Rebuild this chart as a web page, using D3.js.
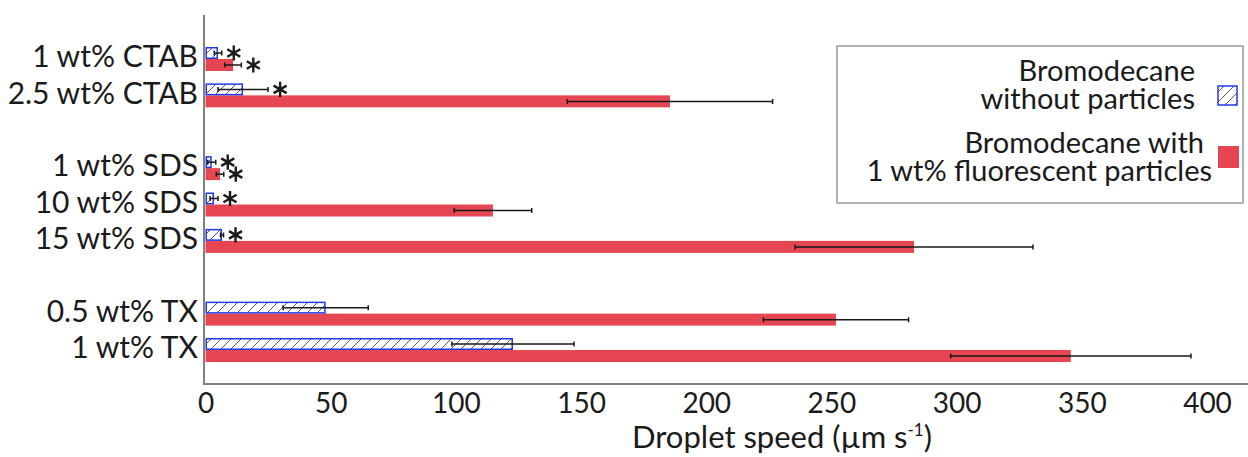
<!DOCTYPE html>
<html>
<head>
<meta charset="utf-8">
<script src="https://cdn.jsdelivr.net/npm/d3@7"></script>
<style>
body { margin: 0; background: #fff; }
text { font-family: Lato, sans-serif; fill: #1a1a1a; }
</style>
</head>
<body>
<svg></svg>
<script>
// conditions, top to bottom
var categories = ["1 wt% CTAB", "2.5 wt% CTAB", "1 wt% SDS", "10 wt% SDS", "15 wt% SDS", "0.5 wt% TX", "1 wt% TX"];
// rows incl. the two blank spacers between surfactant groups
var rowOrder = ["1 wt% CTAB", "2.5 wt% CTAB", "", "1 wt% SDS", "10 wt% SDS", "15 wt% SDS", " ", "0.5 wt% TX", "1 wt% TX"];

// droplet speed (um/s), mean and error
var withoutMean = [5, 15, 2.5, 3.4, 6.6, 48, 122.8];
var withoutErr = [1.5, 10, 1.6, 1.6, 0.6, 17, 24.4];
var withMean = [11, 185.5, 5.8, 114.8, 283, 251.8, 345.6];
var withErr = [3.3, 41, 1.5, 15.5, 47.5, 29, 48];

// significance stars
var starWithout = [true, true, true, true, true, false, false];
var starWith = [true, false, true, false, false, false, false];

var xTicks = [0, 50, 100, 150, 200, 250, 300, 350, 400];
var legendLabels = [["Bromodecane", "without particles"], ["Bromodecane with", "1 wt% fluorescent particles"]];

var width = 1248, height = 457;
var red = "#e64552", blue = "#2238e8";

var svg = d3.select("svg")
    .attr("width", width)
    .attr("height", height);

var defs = svg.append("defs");
var hatch = defs.append("pattern")
    .attr("id", "hatch")
    .attr("patternUnits", "userSpaceOnUse")
    .attr("width", 10)
    .attr("height", 10);
hatch.append("rect").attr("width", 10).attr("height", 10).attr("fill", "#fff");
hatch.append("path")
    .attr("d", "M-1,11 L11,-1 M-6,6 L6,-6 M4,16 L16,4")
    .attr("stroke", "#444")
    .attr("stroke-width", 0.9);

var x = d3.scaleLinear().domain([0, 400]).range([205.5, 1207]);
var y = d3.scalePoint().domain(rowOrder).range([59, 350]);
var barH = 12;

var rows = categories.map(function(c, i) {
    return {cat: c, wo: withoutMean[i], woE: withoutErr[i], w: withMean[i], wE: withErr[i],
            sWo: starWithout[i], sW: starWith[i]};
});

// red bars
svg.append("g").selectAll("rect")
    .data(rows)
    .enter().append("rect")
    .attr("x", x(0))
    .attr("y", function(d) { return y(d.cat); })
    .attr("width", function(d) { return x(d.w) - x(0); })
    .attr("height", barH)
    .attr("fill", red);

// hatched bars
svg.append("g").selectAll("rect")
    .data(rows)
    .enter().append("rect")
    .attr("x", x(0) + 0.75)
    .attr("y", function(d) { return y(d.cat) - barH + 0.75; })
    .attr("width", function(d) { return Math.max(0, x(d.wo) - x(0) - 1.5); })
    .attr("height", barH - 1.5)
    .attr("fill", "url(#hatch)")
    .attr("stroke", blue)
    .attr("stroke-width", 1.5);

// error bars
var errs = [];
rows.forEach(function(d) {
    errs.push({cat: d.cat, m: d.wo, e: d.woE, cy: y(d.cat) - barH / 2, star: d.sWo});
    errs.push({cat: d.cat, m: d.w, e: d.wE, cy: y(d.cat) + barH / 2, star: d.sW});
});

var eg = svg.append("g")
    .attr("stroke", "#1a1a1a")
    .attr("stroke-width", 1.5)
    .attr("fill", "none");

eg.selectAll(".bar-err")
    .data(errs)
    .enter().append("path")
    .attr("d", function(d) {
        var a = x(d.m - d.e), b = x(d.m + d.e);
        return "M" + a + "," + d.cy + "H" + b +
               "M" + a + "," + (d.cy - 2.5) + "V" + (d.cy + 2.5) +
               "M" + b + "," + (d.cy - 2.5) + "V" + (d.cy + 2.5);
    });

var star = d3.symbol().type(d3.symbolAsterisk).size(160);
svg.append("g").selectAll("path")
    .data(errs.filter(function(d) { return d.star; }))
    .enter().append("path")
    .attr("d", star)
    .attr("transform", function(d) { return "translate(" + (x(d.m + d.e) + 12) + "," + d.cy + ")"; })
    .attr("stroke", "#1a1a1a")
    .attr("stroke-width", 2.4)
    .attr("fill", "none");

// y axis labels
var yAxis = svg.append("g")
    .attr("transform", "translate(205,0)")
    .call(d3.axisLeft(y).tickValues(categories).tickSize(0).tickPadding(7));
yAxis.select(".domain").remove();
yAxis.selectAll("text")
    .attr("dy", "0.34em")
    .attr("y", -2.5)
    .style("font-family", "Lato, sans-serif")
    .style("font-size", "30px")
    .attr("fill", "#1a1a1a");

// x axis
var xAxis = svg.append("g")
    .attr("transform", "translate(0,384)")
    .call(d3.axisBottom(x).tickValues(xTicks).tickSize(0).tickPadding(9).tickFormat(d3.format("d")));
xAxis.select(".domain").remove();
xAxis.selectAll("text")
    .style("font-family", "Lato, sans-serif")
    .style("font-size", "28px")
    .attr("fill", "#1a1a1a");

// axis lines
svg.append("line")
    .attr("x1", 204).attr("x2", 204)
    .attr("y1", 15).attr("y2", 385)
    .attr("stroke", "#808080").attr("stroke-width", 2);
svg.append("line")
    .attr("x1", 203).attr("x2", width)
    .attr("y1", 384).attr("y2", 384)
    .attr("stroke", "#808080").attr("stroke-width", 2);

// axis title
var title = svg.append("text")
    .attr("x", 782)
    .attr("y", 448)
    .attr("text-anchor", "middle")
    .style("font-size", "31px");
title.append("tspan").text("Droplet speed (µm s");
title.append("tspan").attr("dy", -12).style("font-size", "17px").text("-1");
title.append("tspan").attr("dy", 12).text(")");

// legend
var legend = svg.append("g");
legend.append("rect")
    .attr("x", 837).attr("y", 46)
    .attr("width", 406).attr("height", 157)
    .attr("fill", "#fff")
    .attr("stroke", "#999")
    .attr("stroke-width", 1.5);

var legendY = [81, 153];
legendLabels.forEach(function(lines, i) {
    var t = legend.append("text")
        .attr("text-anchor", "end")
        .style("font-size", "29px");
    lines.forEach(function(s, j) {
        t.append("tspan")
            .attr("x", i === 0 ? 1195 : (j === 0 ? 1204 : 1212))
            .attr("y", legendY[i] + j * 28)
            .text(s);
    });
});
legend.append("rect")
    .attr("x", 1218).attr("y", 86)
    .attr("width", 19).attr("height", 19)
    .attr("fill", "url(#hatch)")
    .attr("stroke", blue)
    .attr("stroke-width", 1.5);
legend.append("rect")
    .attr("x", 1218).attr("y", 146)
    .attr("width", 21).attr("height", 22)
    .attr("fill", red);
</script>
</body>
</html>
